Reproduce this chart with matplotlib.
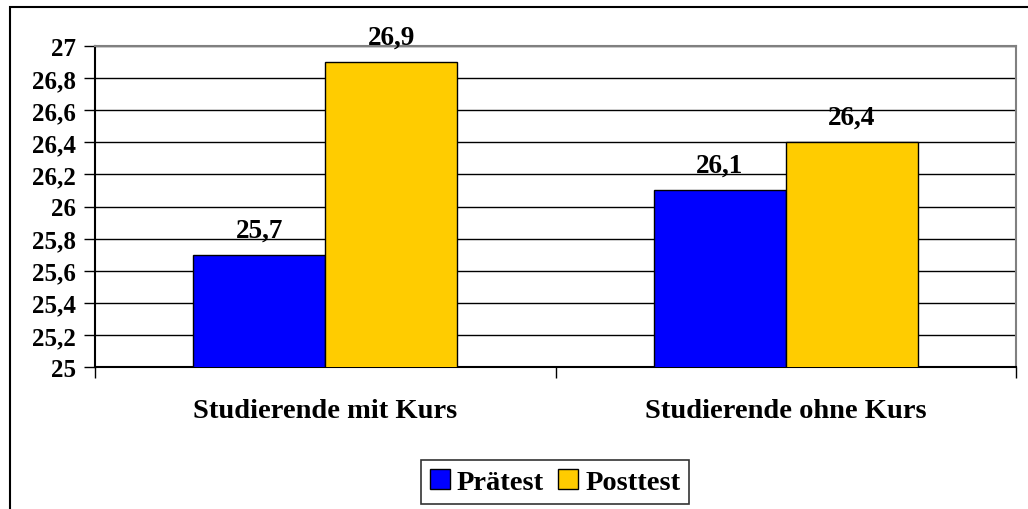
import matplotlib.pyplot as plt
import numpy as np
from matplotlib.patches import Rectangle
from matplotlib.ticker import FuncFormatter, MultipleLocator

# data
categories = ['Studierende mit Kurs', 'Studierende ohne Kurs']
praetest = [25.7, 26.1]
posttest = [26.9, 26.4]
series_names = ['Prätest', 'Posttest']

plt.rcParams['font.family'] = ['Liberation Serif', 'DejaVu Serif']
plt.rcParams['font.weight'] = 'bold'

fig = plt.figure(figsize=(10.28, 5.10), dpi=100)
ax = fig.add_axes([95/1028, 1 - 368/510, (1016 - 95)/1028, (368 - 47)/510])

# frame around the whole chart
fig.patches.append(Rectangle((10/1028, -0.05), 1.1, 1 - 8/510 + 0.05, transform=fig.transFigure,
                             fill=False, edgecolor='black', linewidth=1.5, zorder=0))

x = np.arange(len(categories))
w = 132/460
b1 = ax.bar(x - w/2, praetest, w, color='#0000FF', edgecolor='black', linewidth=1, label=series_names[0], zorder=3)
b2 = ax.bar(x + w/2, posttest, w, color='#FFCC00', edgecolor='black', linewidth=1, label=series_names[1], zorder=3)

for bars, vals in [(b1, praetest), (b2, posttest)]:
    for r, v in zip(bars, vals):
        ax.text(r.get_x() + r.get_width()/2, v + 0.115, f'{v:.1f}'.replace('.', ','),
                ha='center', va='baseline', fontsize=19.5, fontweight='bold', clip_on=False)

ax.set_ylim(25, 27)
ax.set_xlim(-0.5, 1.5)
ax.yaxis.set_major_locator(MultipleLocator(0.2))
ax.yaxis.set_major_formatter(FuncFormatter(lambda v, p: f'{v:.1f}'.rstrip('0').rstrip('.').replace('.', ',')))
ax.grid(axis='y', color='black', linewidth=1, zorder=0)
ax.set_axisbelow(True)

ax.set_xticks([-0.5, 0.5, 1.5])
ax.set_xticklabels([])
ax.set_xticks(x, minor=True)
ax.set_xticklabels(categories, minor=True, fontsize=20.5, fontweight='bold')
ax.tick_params(axis='x', which='minor', length=0, pad=22)
ax.tick_params(axis='x', which='major', length=8, width=1, direction='out')
ax.tick_params(axis='y', length=8, width=1, labelsize=18, pad=6)
for lab in ax.get_yticklabels():
    lab.set_fontweight('bold')

for s in ['top', 'right']:
    ax.spines[s].set_color('#808080')
    ax.spines[s].set_linewidth(1.5)
for s in ['left', 'bottom']:
    ax.spines[s].set_color('black')
    ax.spines[s].set_linewidth(1.5)

leg = fig.legend(loc='center', bbox_to_anchor=(555/1028, 1 - 483/510), ncol=2,
                 prop={'size': 20.5, 'weight': 'bold'}, frameon=True, fancybox=False,
                 edgecolor='black', handlelength=0.7, handleheight=0.7,
                 handletextpad=0.25, columnspacing=0.5, borderpad=0.3)
leg.get_frame().set_linewidth(1.2)

plt.savefig('out.png', dpi=100)
